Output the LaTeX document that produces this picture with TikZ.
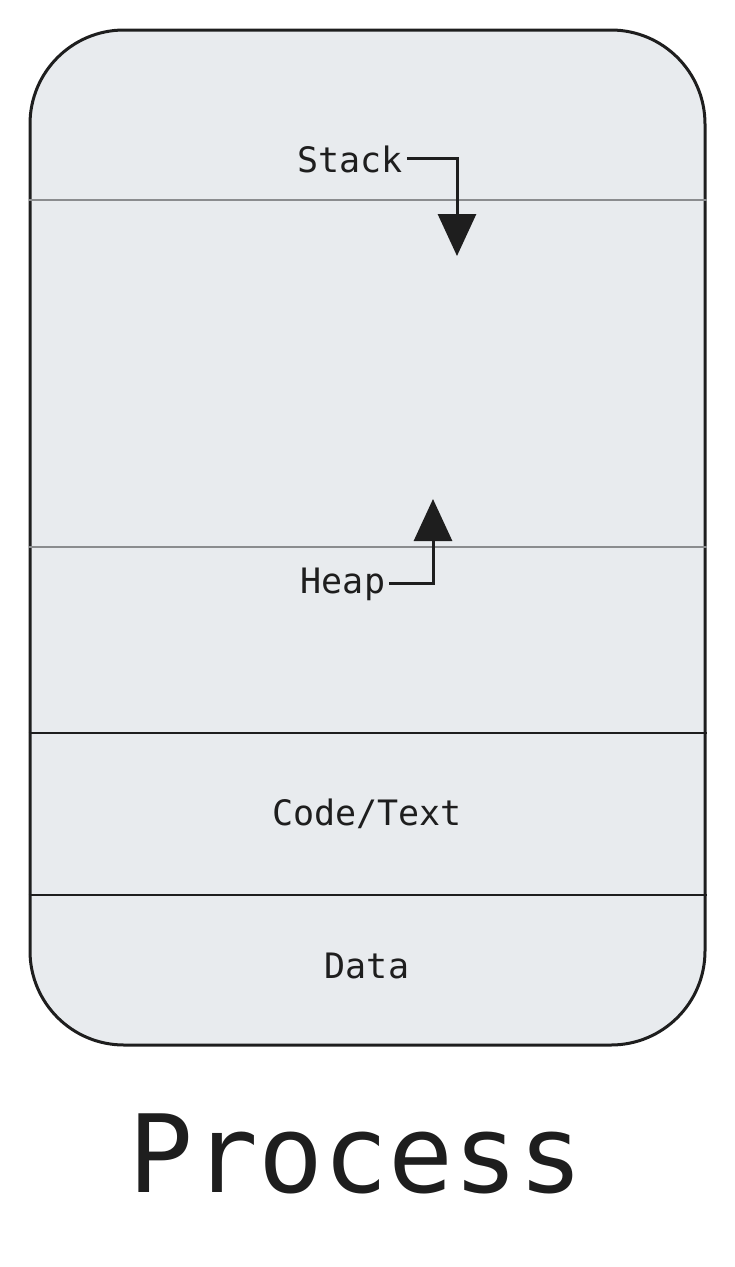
\documentclass[tikz,border=0pt]{standalone}
\usepackage{fontspec}
\setmainfont{DejaVu Sans Mono}
\usetikzlibrary{arrows.meta}
\definecolor{boxfill}{HTML}{E8EBEE}
\definecolor{ink}{HTML}{1E1E1E}
\definecolor{divgray}{HTML}{8A8C8E}
\tikzset{
  lbl/.style={inner sep=0pt, anchor=base, text=ink, font=\fontsize{35}{40}\selectfont},
  title/.style={inner sep=0pt, anchor=base, text=ink, font=\fontsize{108}{120}\selectfont},
  softdiv/.style={draw=divgray, line width=2.6pt},
  harddiv/.style={draw=ink, line width=2.6pt},
  pointer/.style={draw=ink, line width=3pt, -{Triangle[width=38pt,length=42pt]}},
}
\begin{document}
\begin{tikzpicture}[x=1pt,y=-1pt]
\useasboundingbox (0,0) rectangle (735,1267);
\node[draw=ink, fill=boxfill, line width=3pt, rounded corners=94pt,
      minimum width=675pt, minimum height=1015pt, inner sep=0pt] (proc) at (367.5,537.5) {};
\draw[softdiv] (proc.west |- 0,200) coordinate (d1l) -- (proc.east |- 0,200) coordinate (d1r);
\draw[softdiv] (proc.west |- 0,547) coordinate (d2l) -- (proc.east |- 0,547) coordinate (d2r);
\draw[harddiv] (proc.west |- 0,733) coordinate (d3l) -- (proc.east |- 0,733) coordinate (d3r);
\draw[harddiv] (proc.west |- 0,895) coordinate (d4l) -- (proc.east |- 0,895) coordinate (d4r);
\node[lbl] (stack) at (350,172) {Stack};
\node[lbl] (heap) at (343,593) {Heap};
\node[lbl] (code) at (367,825) {Code/Text};
\node[lbl] (data) at (367,978) {Data};
\node[title] (ptitle) at (356,1192) {Process};
\coordinate (stacktip) at (457,256);
\coordinate (heaptip) at (433,499);
\draw[pointer] ([xshift=4pt]stack.east) -| (stacktip);
\draw[pointer] ([xshift=4pt]heap.east) -| (heaptip);
\end{tikzpicture}
\end{document}
